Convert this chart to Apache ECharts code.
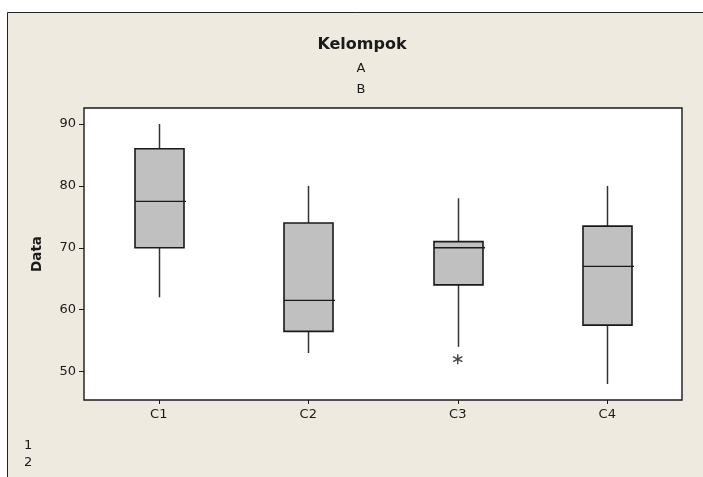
<!DOCTYPE html>
<html>
<head>
<meta charset="utf-8">
<script src="https://cdn.jsdelivr.net/npm/echarts@6/dist/echarts.min.js"></script>
<style>
  html, body { margin: 0; padding: 0; background: #ffffff; }
  #chart { width: 703px; height: 477px; }
</style>
</head>
<body>
<div id="chart"></div>
<script>
// Columns and their five-number summaries
const categories = ['C1', 'C2', 'C3', 'C4'];
const whiskerLow  = [62, 53, 54, 48];
const quartile1   = [70, 56.5, 64, 57.5];
const medians     = [77.5, 61.5, 70, 67];
const quartile3   = [86, 74, 71, 73.5];
const whiskerHigh = [90, 80, 78, 80];

// Points beyond the whiskers: [column index, value]
const outliers = [[2, 52]];

const yTicks = [50, 60, 70, 80, 90];
const legendTitle = 'Kelompok';
const legendItems = ['A', 'B'];
const footItems = ['1', '2'];

const FONT = 'DejaVu Sans';
const INK = '#1a1a1a';

const boxData = categories.map((c, i) => [i, whiskerLow[i], quartile1[i], medians[i], quartile3[i], whiskerHigh[i]]);

// Six-armed asterisk marker
const asterisk = 'path://M4.3 0 L5.7 0 L5.7 10 L4.3 10 Z ' +
  'M1.02 1.9 L9.68 6.9 L8.98 8.1 L0.32 3.1 Z ' +
  'M0.32 6.9 L8.98 1.9 L9.68 3.1 L1.02 8.1 Z';

function renderBox(params, api) {
  const idx = api.value(0);
  const lo = api.coord([idx, api.value(1)]);
  const q1 = api.coord([idx, api.value(2)]);
  const md = api.coord([idx, api.value(3)]);
  const q3 = api.coord([idx, api.value(4)]);
  const hi = api.coord([idx, api.value(5)]);
  const x = Math.round(lo[0]) + 0.5;
  const half = 24.5;
  const lineStyle = { stroke: '#333', lineWidth: 1.5 };
  return {
    type: 'group',
    children: [
      { type: 'line', shape: { x1: x, y1: hi[1], x2: x, y2: q3[1] }, style: lineStyle },
      { type: 'line', shape: { x1: x, y1: q1[1], x2: x, y2: lo[1] }, style: lineStyle },
      {
        type: 'rect',
        shape: { x: x - half, y: q3[1], width: half * 2, height: q1[1] - q3[1] },
        style: { fill: '#c0c0c0', stroke: INK, lineWidth: 1.6 }
      },
      { type: 'line', shape: { x1: x - half, y1: md[1], x2: x + half + 2, y2: md[1] }, style: { stroke: INK, lineWidth: 1.4 } }
    ]
  };
}

const chart = echarts.init(document.getElementById('chart'), null, { renderer: 'canvas' });

chart.setOption({
  backgroundColor: '#ffffff',
  animation: false,
  graphic: [
    {
      type: 'rect', z: -10, silent: true,
      shape: { x: 7.5, y: 12.5, width: 760, height: 520 },
      style: { fill: '#eeeae0', stroke: '#222', lineWidth: 1 }
    },
    {
      type: 'text', x: 362, y: 37,
      style: { text: legendTitle, font: 'bold 16px "' + FONT + '"', fill: INK, textAlign: 'center' }
    },
    {
      type: 'text', x: 361, y: 62,
      style: { text: legendItems[0], font: '13px "' + FONT + '"', fill: INK, textAlign: 'center' }
    },
    {
      type: 'text', x: 361, y: 83,
      style: { text: legendItems[1], font: '13px "' + FONT + '"', fill: INK, textAlign: 'center' }
    },
    {
      type: 'text', x: 24, y: 439,
      style: { text: footItems[0], font: '13px "' + FONT + '"', fill: INK }
    },
    {
      type: 'text', x: 24, y: 456,
      style: { text: footItems[1], font: '13px "' + FONT + '"', fill: INK }
    }
  ],
  grid: {
    left: 84, top: 108, right: 21, bottom: 77,
    show: true, backgroundColor: '#ffffff', borderColor: INK, borderWidth: 1.4
  },
  xAxis: {
    type: 'category',
    data: categories,
    boundaryGap: true,
    axisLine: { show: false },
    axisTick: { show: true, alignWithLabel: true, length: 4, lineStyle: { color: INK } },
    axisLabel: { color: INK, fontFamily: FONT, fontSize: 13, margin: 8 },
    splitLine: { show: false }
  },
  yAxis: {
    type: 'value',
    min: 45.41,
    max: 92.58,
    name: 'Data',
    nameLocation: 'middle',
    nameGap: 40,
    nameRotate: 90,
    nameTextStyle: { color: INK, fontFamily: FONT, fontSize: 13.5, fontWeight: 'bold' },
    axisLine: { show: false },
    axisTick: { show: true, length: 5, customValues: yTicks, lineStyle: { color: INK } },
    axisLabel: { color: INK, fontFamily: FONT, fontSize: 13, margin: 8, customValues: yTicks },
    splitLine: { show: false }
  },
  series: [
    {
      type: 'custom',
      renderItem: renderBox,
      encode: { x: 0, y: [1, 2, 3, 4, 5] },
      data: boxData,
      z: 3
    },
    {
      type: 'scatter',
      data: outliers,
      symbol: asterisk,
      symbolSize: 10,
      itemStyle: { color: INK },
      z: 4
    }
  ]
});
</script>
</body>
</html>
